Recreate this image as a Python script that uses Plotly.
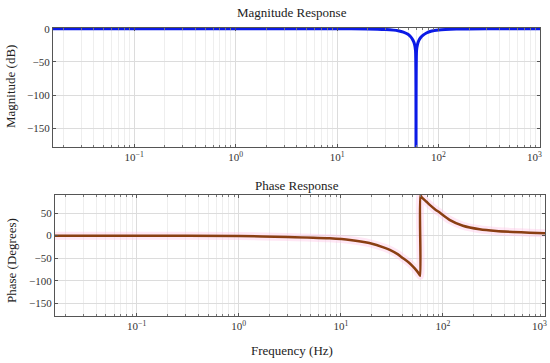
import plotly.graph_objects as go

# ---- data ----
mag_freq = [0.0157, 0.1, 1, 10, 20, 30, 36, 40, 45, 50, 53, 56, 58, 59.3, 60,
            60.7, 62, 64, 67, 70, 76, 84, 100, 150, 300, 1000]
mag_db = [0, 0, 0, -0.1, -0.4, -1.3, -2.2, -3.2, -5.2, -8.5, -12, -17.5, -23.5, -33, -200,
          -33, -23.5, -17.5, -13, -10, -6.5, -4, -2, -0.6, -0.1, 0]

ph_freq = [0.0157, 0.1, 1, 3, 7.8, 12.3, 19, 27, 30.2, 36, 40.7, 46, 51, 55, 58.4, 59.9,
           60.1, 62, 69, 74.3, 84, 93, 116, 157, 229, 332, 484, 705, 1000]
ph_deg = [0, 0, -1, -2.8, -6, -9.5, -16.5, -27, -31.5, -41, -50, -59, -68.5, -77, -85, -89,
          89, 85, 75, 68, 58, 51, 35, 22, 14.2, 10.4, 8.2, 6.6, 5.3]

x_tickvals = [0.1, 1, 10, 100, 1000]
x_ticktext = ["10<sup>−1</sup>", "10<sup>0</sup>", "10<sup>1</sup>", "10<sup>2</sup>",
              "10<sup>3</sup>\u2007\u2007"]
mag_yticks = [0, -50, -100, -150]
ph_yticks = [50, 0, -50, -100, -150]

W, H = 550, 363
SERIF = "Liberation Serif, Times New Roman, serif"

def px(x0, x1):
    return [x0 / W, x1 / W]

def py(top, bottom):
    return [1 - bottom / H, 1 - top / H]

def pxp(x):
    return x / W

def pyp(y):
    return 1 - y / H

fig = go.Figure()

fig.add_trace(go.Scatter(x=mag_freq, y=mag_db, mode="lines",
                         line=dict(color="#0b1ae6", width=3, shape="spline", smoothing=0.6),
                         xaxis="x", yaxis="y", showlegend=False))
fig.add_trace(go.Scatter(x=ph_freq, y=ph_deg, mode="lines",
                         line=dict(color="rgba(255,195,230,0.4)", width=8, shape="spline", smoothing=0.6),
                         xaxis="x2", yaxis="y2", showlegend=False))
fig.add_trace(go.Scatter(x=ph_freq, y=ph_deg, mode="lines",
                         line=dict(color="#8a3f12", width=2.5, shape="spline", smoothing=0.6),
                         xaxis="x2", yaxis="y2", showlegend=False))

axis_common = dict(showline=True, linecolor="#555555", linewidth=1, mirror="ticks",
                   ticks="inside", ticklen=3, tickcolor="#555555", zeroline=False,
                   gridcolor="#dcdcdc", gridwidth=1, automargin=False,
                   tickfont=dict(family=SERIF, size=11, color="#333333"))

xcommon = dict(axis_common, type="log", range=[-1.8, 3.0], tickvals=x_tickvals, ticktext=x_ticktext,
               ticklabeloverflow="allow",
               minor=dict(dtick="D1", showgrid=True, gridcolor="#eeeeee", ticks="inside",
                          ticklen=2, tickcolor="#777777"))

title_font = dict(family=SERIF, size=13, color="#222222")

def note(text, x, y, angle=0):
    return dict(text=text, x=pxp(x), y=pyp(y), xref="paper", yref="paper",
                xanchor="center", yanchor="middle", showarrow=False,
                textangle=angle, font=title_font)

fig.update_layout(
    width=W, height=H,
    margin=dict(l=0, r=0, t=0, b=0),
    paper_bgcolor="white", plot_bgcolor="white",
    xaxis=dict(xcommon, domain=px(53, 540), anchor="y"),
    yaxis=dict(axis_common, domain=py(28, 147), range=[-178, 1], tickvals=mag_yticks,
               anchor="x"),
    xaxis2=dict(xcommon, domain=px(55, 545), anchor="y2"),
    yaxis2=dict(axis_common, domain=py(195, 316), range=[-178, 90], tickvals=ph_yticks,
                anchor="x2"),
    annotations=[
        note("Magnitude Response", 292, 12),
        note("Phase Response", 297, 186),
        note("Frequency (Hz)", 292, 350),
        note("Magnitude (dB)", 11, 87, -90),
        note("Phase (Degrees)", 11, 261, -90),
    ],
)

fig.write_html("out.html",
               config={"displayModeBar": False},
               post_script="document.body.style.margin='0px';document.body.style.overflow='hidden';")
